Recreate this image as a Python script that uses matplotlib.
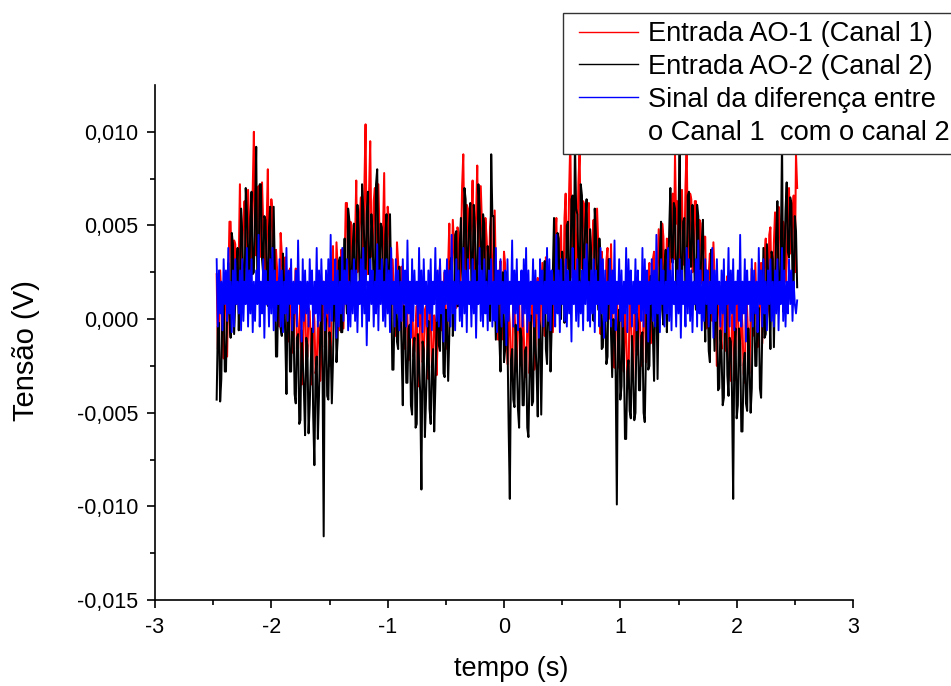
import numpy as np
import matplotlib
matplotlib.use("Agg")
import matplotlib.pyplot as plt
from matplotlib.lines import Line2D
from matplotlib.legend_handler import HandlerLine2D
from matplotlib.ticker import FixedLocator, FuncFormatter

plt.rcParams['font.family'] = ['Liberation Sans', 'DejaVu Sans']
plt.rcParams['axes.unicode_minus'] = False

# time span of the record (s)
t_start, t_end = -2.47, 2.52

# values in units of 0.1 mV (1e-4 V)
canal1 = [
    24, -16, -14, 26, 12, -1, -21, 22, 19, -20, 18, 52, 52, 18, 6, 42, 40, 8, 23, 33,
    72, 23, 39, 53, 63, 35, 27, 69, 50, 31, 25, 69, 100, 44, 34, 64, 71, 33, 37, 73,
    51, 24, 17, 51, 80, 17, 33, 64, 57, 31, 5, 37, 26, 1, -4, 46, 35, 18, 1, 33,
    24, -10, -12, 27, 4, -18, -16, 10, 27, -16, -16, -2, 8, -35, -30, 10, 14, -22, -20, 6,
    4, -17, -35, 7, 0, -29, -26, -1, -5, -33, -20, 10, 20, -15, -10, 4, 16, -25, -24, 20,
    39, -1, 1, 41, 27, 14, -6, 37, 34, -5, 28, 62, 62, 28, 16, 52, 50, 18, 33, 43,
    74, 25, 41, 55, 65, 37, 29, 71, 104, 33, 24, 68, 95, 43, 33, 63, 70, 32, 36, 72,
    47, 20, 13, 47, 78, 13, 29, 60, 53, 27, 0, 32, 21, -4, -9, 41, 30, 13, -4, 28,
    20, -14, -16, 23, 0, -22, -20, 6, 23, -20, -17, -3, 7, -36, -31, 9, 13, -23, -21, 5,
    7, -14, -32, 10, 3, -26, -23, 2, -2, -30, -11, 19, 29, -6, -1, 13, 25, -16, -15, 29,
    51, 11, 13, 53, 39, 26, 6, 49, 46, 7, 37, 71, 88, 37, 25, 61, 59, 27, 42, 52,
    74, 25, 41, 55, 82, 37, 29, 71, 52, 33, 10, 54, 44, 29, 19, 49, 56, 18, 22, 58,
    23, -4, -11, 23, 31, -11, 5, 36, 29, 3, -24, 8, -3, -28, -33, 17, 6, -11, -28, 4,
    11, -23, -25, 14, -9, -31, -29, -3, 14, -29, -8, 6, 16, -27, -22, 18, 22, -14, -12, 14,
    30, 9, -9, 33, 26, -3, 0, 25, 21, -7, 14, 44, 54, 19, 24, 38, 50, 9, 10, 54,
    67, 27, 29, 69, 95, 42, 22, 65, 62, 23, 39, 73, 90, 39, 27, 63, 61, 29, 44, 54,
    62, 13, 29, 43, 53, 25, 17, 59, 40, 21, -8, 36, 26, 11, 1, 31, 38, 0, 4, 40,
    8, -19, -26, 8, 16, -26, -10, 21, 14, -12, -28, 4, -7, -32, -37, 13, 2, -15, -32, 0,
    17, -17, -19, 20, -3, -25, -23, 3, 20, -23, 6, 20, 30, -13, -8, 32, 36, 0, 2, 28,
    48, 27, 9, 51, 44, 15, 18, 43, 39, 11, 27, 57, 67, 32, 88, 51, 63, 22, 23, 67,
    69, 29, 31, 71, 92, 44, 24, 67, 64, 25, 29, 63, 63, 29, 17, 53, 51, 19, 34, 44,
    44, -5, 11, 25, 35, 7, -1, 41, 22, 3, -25, 19, 9, -6, -16, 14, 21, -17, -13, 23,
    1, -26, -33, 1, 9, -33, -17, 14, 7, -19, -25, 7, -4, -29, -34, 16, 5, -12, -29, 3,
    27, -7, -9, 30, 7, -15, -13, 13, 30, -13, 19, 33, 43, 0, 5, 45, 49, 13, 15, 41,
    57, 36, 18, 60, 53, 24, 27, 52, 48, 20, 30, 60, 70, 35, 40, 54, 66, 25, 88, 70,
]

canal2 = [
    -43, -4, -2, -44, -32, 10, 12, -28, -28, 5, 30, 2, -10, 46, 40, -8, 9, 26, 38, -6,
    21, 59, 46, 16, 10, 70, 57, 36, 16, 54, 68, 24, 25, 56, 92, 16, 20, 72, 72, 32,
    24, 55, 53, 25, 7, 49, 60, 12, 19, 60, 27, -20, -20, 16, 22, -5, -9, 35, 16, -10,
    -40, 13, 8, -28, -28, 1, 3, -40, -45, -10, -8, -56, -54, -6, -22, -38, -62, -10, -14, -61,
    -46, -22, -5, -52, -78, -29, -20, -64, -40, -10, 11, -26, -116, 3, 0, -41, -43, -7, -15, -45,
    -22, 17, 19, -23, -11, 31, 33, -7, -7, 26, 43, 15, 3, 59, 53, 5, 22, 39, 51, 7,
    23, 61, 48, 18, 12, 72, 59, 38, 18, 56, 68, 24, 25, 56, 44, 16, 20, 72, 80, 32,
    20, 51, 49, 21, 3, 45, 56, 8, 15, 56, 20, -27, -27, 9, 15, -12, -16, 28, 9, -17,
    -46, 7, 2, -34, -34, -5, -3, -46, -51, -16, -10, -58, -56, -8, -24, -40, -91, -12, -16, -63,
    -42, -18, -1, -48, -56, -25, -16, -60, -36, -6, 23, -14, -17, 15, 12, -29, -31, 5, -3, -33,
    -8, 31, 33, -9, 3, 45, 47, 7, 7, 40, 54, 26, 14, 70, 64, 16, 33, 50, 62, 18,
    23, 61, 48, 18, 12, 72, 59, 38, 18, 56, 51, 7, 8, 39, 27, -1, 88, 55, 55, 15,
    -11, 20, 18, -10, -28, 14, 25, -23, -16, 25, -11, -58, -96, -22, -16, -43, -47, -3, -22, -48,
    -58, -5, -10, -46, -46, -17, -15, -58, -63, -28, 2, -46, -44, 4, -12, -28, -52, 0, -4, -51,
    -10, 14, 31, -16, -24, 7, 16, -28, -4, 26, 54, 17, 14, 46, 43, 2, 0, 36, 28, -2,
    11, 50, 52, 10, 22, 64, 66, 26, 95, 59, 56, 28, 16, 72, 66, 18, 35, 52, 64, 20,
    10, 48, 35, 5, -1, 59, 46, 25, 5, 43, 28, -16, -15, 16, 4, -24, -20, 32, 32, -8,
    -31, 0, -2, -30, -99, -6, 5, -43, -36, 5, -17, -64, -64, -28, -22, -49, -53, -9, -28, -54,
    -50, 3, -2, -38, -38, -9, -7, -50, -55, -20, 21, -27, -25, 23, 7, -9, -33, 19, 15, -32,
    11, 35, 52, 5, -3, 28, 37, -7, 17, 47, 70, 33, 30, 62, 59, 18, 16, 52, 98, 14,
    13, 52, 54, 12, 24, 66, 68, 28, 28, 61, 45, 17, 5, 61, 55, 7, 24, 41, 53, 9,
    -12, 26, 13, -17, -23, 37, 24, 3, -17, 21, 6, -38, -37, -6, -18, -46, -42, 10, 10, -30,
    -41, -10, -12, -40, -96, -16, -5, -53, -46, -5, -13, -60, -60, -24, -18, -45, -49, -5, -24, -50,
    -37, 16, 11, -25, -25, 4, 6, -37, -42, -7, 38, -10, -8, 40, 24, 8, -16, 36, 32, -15,
    22, 46, 63, 16, 8, 39, 95, 4, 28, 58, 73, 36, 33, 65, 62, 21, 19, 55, 47, 17,
]

diferenca = [
    32, -4, 26, 3, 20, -6, 32, 8, 26, -1, 38, 3, 20, -7, 26, -4, 32, 8, 20, 3,
    26, -6, 32, -1, 20, 8, 38, -4, 26, 3, 32, -7, 20, -1, 26, 8, 45, -4, 20, 3,
    32, -10, 26, 8, 20, -4, 32, 3, 38, -6, 26, -1, 20, 8, 32, -4, 26, -7, 20, 3,
    38, -1, 26, 8, 32, -6, 20, 3, 26, -4, 42, 8, 20, -12, 32, -1, 26, 3, 20, -4,
    32, 8, 26, -7, 20, 3, 38, -4, 26, -1, 32, 8, 20, -6, 26, 3, 32, -4, 45, -1,
    20, 8, 32, -10, 26, -4, 20, 3, 38, -1, 26, 8, 32, -6, 20, -4, 26, 3, 32, -1,
    26, -7, 20, 8, 32, -4, 38, 3, 26, -14, 20, -1, 32, 8, 26, -4, 20, 3, 40, -6,
    26, 8, 32, -1, 20, -4, 32, 3, 26, -7, 38, 8, 20, -4, 32, 3, 26, -6, 20, -1,
    32, 8, 26, -4, 42, 3, 20, -10, 32, -1, 26, 8, 20, -4, 38, 3, 26, -7, 32, 8,
    20, -4, 26, 3, 32, -6, 20, 8, 38, -1, 26, -4, 32, 3, 20, -12, 26, 8, 32, -1,
    26, -4, 45, 3, 20, -6, 32, 8, 26, -1, 20, -4, 38, 3, 26, -7, 32, 8, 20, -4,
    32, 3, 26, -10, 20, 8, 38, -1, 26, -4, 32, 3, 20, -6, 26, 8, 32, -4, 20, -1,
    38, -7, 26, 8, 32, -4, 20, 3, 26, -14, 32, -1, 20, 8, 42, -4, 26, 3, 32, -6,
    20, 8, 26, -4, 32, 3, 38, -7, 26, -1, 20, 8, 32, -4, 26, 3, 20, -10, 32, 8,
    26, -4, 20, 3, 38, -1, 32, -6, 26, 8, 20, -4, 45, 3, 26, -7, 32, 8, 20, -1,
    32, -4, 26, 3, 20, -12, 38, 8, 26, -1, 32, -4, 20, 3, 26, -6, 32, 8, 40, -1,
    20, -4, 26, 3, 32, -7, 26, 8, 20, -4, 38, 3, 32, -10, 26, -1, 20, 8, 32, -4,
    26, 3, 42, -6, 20, 8, 32, -1, 26, -4, 20, 3, 38, -7, 32, 8, 26, -4, 20, 3,
    32, -6, 26, 8, 20, -1, 38, -4, 32, 3, 26, -12, 20, 8, 32, -1, 26, -4, 45, 3,
    20, -7, 32, 8, 26, -4, 20, 3, 38, -1, 26, -6, 32, 8, 20, -4, 26, 3, 32, -10,
    26, 8, 20, -4, 38, 3, 32, -1, 26, -7, 20, 8, 32, -4, 42, 3, 26, -6, 20, -1,
    32, 8, 26, -4, 20, 3, 38, -10, 26, -1, 32, 8, 20, -4, 26, 3, 32, -7, 20, 8,
    38, -4, 26, 3, 32, -6, 20, 8, 26, -1, 45, -4, 20, 3, 32, -12, 26, 8, 20, -1,
    32, -4, 26, 3, 20, -7, 38, 8, 26, -4, 32, 3, 20, -6, 26, 8, 32, -1, 20, -4,
    26, 3, 32, -6, 20, 8, 38, -1, 26, -4, 20, 3, 32, 8, 26, -1, 20, 8, 3, 10,
]

labels = ["Entrada AO-1 (Canal 1)", "Entrada AO-2 (Canal 2)",
          "Sinal da diferença entre", "o Canal 1  com o canal 2"]

unit = 1e-4


def series(vals):
    v = np.asarray(vals, dtype=float) * unit
    t = np.linspace(t_start, t_end, len(v))
    return t, v


fig = plt.figure(figsize=(9.51, 6.86), dpi=100)
ax = fig.add_axes([155 / 951, 1 - 600 / 686, 698 / 951, 515 / 686])

t1, v1 = series(canal1)
t2, v2 = series(canal2)
t3, v3 = series(diferenca)
l1, = ax.plot(t1, v1, color='#ff0000', lw=1.45)
l2, = ax.plot(t2, v2, color='#000000', lw=1.45)
l3, = ax.plot(t3, v3, color='#0000ff', lw=1.35)

ax.set_xlim(-3, 3)
ax.set_ylim(-0.015, 0.0125)
ax.spines['top'].set_visible(False)
ax.spines['right'].set_visible(False)
for s in ('left', 'bottom'):
    ax.spines[s].set_linewidth(1.2)

ax.xaxis.set_major_locator(FixedLocator([-3, -2, -1, 0, 1, 2, 3]))
ax.xaxis.set_minor_locator(FixedLocator([-2.5, -1.5, -0.5, 0.5, 1.5, 2.5]))
ax.yaxis.set_major_locator(FixedLocator([-0.015, -0.010, -0.005, 0.0, 0.005, 0.010]))
ax.yaxis.set_minor_locator(FixedLocator([-0.0125, -0.0075, -0.0025, 0.0025, 0.0075]))
ax.xaxis.set_major_formatter(FuncFormatter(lambda v, p: f"{v:.0f}"))
ax.yaxis.set_major_formatter(FuncFormatter(lambda v, p: f"{v:.3f}".replace('.', ',').replace('-0,000', '0,000')))
ax.tick_params(which='major', direction='out', length=6, width=1.2, labelsize=15.5, pad=6)
ax.tick_params(which='minor', direction='out', length=3.6, width=1.2)

ax.set_xlabel("tempo (s)", fontsize=19.5)
ax.set_ylabel("Tensão (V)", fontsize=21)
ax.xaxis.set_label_coords(0.51, -0.108)
ax.yaxis.set_label_coords(-0.165, 0.485)

blank = Line2D([], [], color='none')
leg = fig.legend([l1, l2, l3, blank], labels, loc='upper left',
                 bbox_to_anchor=(563 / 951, 1 - 13 / 686), bbox_transform=fig.transFigure,
                 fontsize=19.6, frameon=True, fancybox=False, framealpha=1,
                 borderpad=0.3, labelspacing=0.25, handlelength=2.45, handletextpad=0.36,
                 borderaxespad=0, handler_map={Line2D: HandlerLine2D(xpad=0.27)})
leg.get_frame().set_edgecolor('#333333')
leg.get_frame().set_linewidth(1.0)
for h in leg.legend_handles:
    h.set_linewidth(1.0)

fig.savefig("out.png", dpi=100)
